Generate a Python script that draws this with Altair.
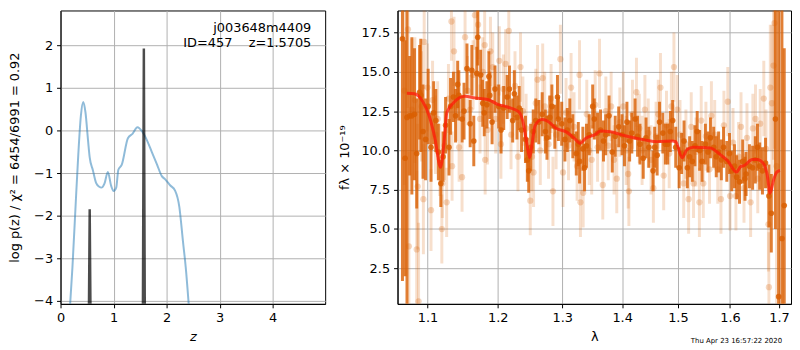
import altair as alt
import pandas as pd

# ---------------- left panel: p(z) ----------------
pz_z = [0.17, 0.225, 0.287, 0.335, 0.384, 0.428, 0.47, 0.52, 0.55, 0.61, 0.67, 0.73, 0.77,
        0.83, 0.892, 0.955, 1.0, 1.05, 1.09, 1.155, 1.27, 1.36, 1.45, 1.54, 1.63, 1.72,
        1.82, 1.91, 1.97, 2.07, 2.16, 2.24, 2.31, 2.36, 2.43]
pz_logp = [-4.3, -3.2, -1.69, -0.56, 0.35, 0.67, 0.43, -0.25, -0.63, -0.93, -1.23, -1.32, -1.34,
           -1.24, -0.97, -1.30, -1.42, -1.34, -0.92, -0.80, -0.18, -0.07, 0.08, -0.02, -0.23, -0.50,
           -0.80, -1.07, -1.14, -1.29, -1.41, -1.79, -2.62, -3.2, -4.3]

spike_z = [0.535, 0.55, 0.565, 1.553, 1.571, 1.589]
spike_v = [-4.3, -1.85, -4.3, -4.3, 1.93, -4.3]
spike_id = ["a", "a", "a", "b", "b", "b"]

label_1 = "j003648m4409"
label_2 = "ID=457\u00a0\u00a0\u00a0\u00a0z=1.5705"

# ---------------- right panel: spectrum ----------------
model_lam = [1.0723, 1.0824, 1.0934, 1.1023, 1.1103, 1.1180, 1.1225, 1.1268, 1.1362, 1.1525,
             1.1666, 1.1855, 1.2000, 1.2146, 1.2320, 1.2394, 1.2444, 1.2485, 1.2520, 1.2570,
             1.2673, 1.2750, 1.2906, 1.3063, 1.3195, 1.3287, 1.3384, 1.3547, 1.3629, 1.3796,
             1.4049, 1.4394, 1.4628, 1.4897, 1.4959, 1.5079, 1.5170, 1.5294, 1.5611, 1.5803,
             1.5957, 1.6130, 1.6214, 1.6280, 1.6448, 1.6548, 1.6684, 1.6750, 1.6817, 1.6886,
             1.6954, 1.7022]
model_f = [13.64, 13.60, 13.13, 12.21, 10.77, 8.93, 10.36, 12.41, 13.03, 13.44,
           13.34, 13.24, 12.93, 12.76, 12.45, 11.59, 10.36, 9.54, 10.36, 11.59,
           11.96, 11.90, 11.39, 11.18, 10.77, 10.46, 10.77, 11.02, 11.23, 11.19,
           10.93, 10.67, 10.56, 10.60, 10.56, 9.54, 10.05, 10.20, 10.16, 9.75,
           9.33, 8.62, 8.97, 9.03, 9.42, 9.42, 9.13, 8.52, 7.28, 8.10,
           8.62, 8.72]

dark_lam = [1.0665, 1.0700, 1.0725, 1.0760, 1.0790, 1.0825, 1.0855, 1.0894, 1.0910, 1.0940,
            1.0975, 1.1010, 1.1049, 1.1085, 1.1115, 1.1150, 1.1184, 1.1215, 1.1250, 1.1298,
            1.1320, 1.1360, 1.1390, 1.1420, 1.1436, 1.1483, 1.1510, 1.1552, 1.1598, 1.1622,
            1.1650, 1.1693, 1.1707, 1.1750, 1.1780, 1.1802, 1.1840, 1.1870, 1.1883, 1.1917,
            1.1960, 1.2015, 1.2050, 1.2090, 1.2142, 1.2176, 1.2225, 1.2250, 1.2290, 1.2324,
            1.2360, 1.2420, 1.2449, 1.2470, 1.2500, 1.2540, 1.2580, 1.2627, 1.2680, 1.2730,
            1.2755, 1.2800, 1.2833, 1.2880, 1.2922, 1.2937, 1.2990, 1.3042, 1.3080, 1.3121,
            1.3170, 1.3227, 1.3260, 1.3281, 1.3335, 1.3363, 1.3395, 1.3440, 1.3498, 1.3525,
            1.3580, 1.3630, 1.3680, 1.3717, 1.3774, 1.3829, 1.3880, 1.3940, 1.3998, 1.4040,
            1.4083, 1.4130, 1.4168, 1.4226, 1.4270, 1.4312, 1.4370, 1.4420, 1.4470, 1.4546,
            1.4575, 1.4620, 1.4663, 1.4723, 1.4770, 1.4813, 1.4860, 1.4904, 1.4960, 1.5023,
            1.5070, 1.5115, 1.5177, 1.5220, 1.5270, 1.5320, 1.5363, 1.5410, 1.5456, 1.5520,
            1.5570, 1.5617, 1.5680, 1.5730, 1.5776, 1.5830, 1.5873, 1.5937, 1.5990, 1.6035,
            1.6090, 1.6134, 1.6190, 1.6255, 1.6300, 1.6322, 1.6390, 1.6455, 1.6510, 1.6554,
            1.6600, 1.6656, 1.6720, 1.6790, 1.6840, 1.6926, 1.6994, 1.7063, 1.7112]
dark_f = [17.1, 9.5, 12.1, 12.2, 12.2, 12.3, 9.8, 13.7, 13.5, 11.2,
          10.7, 12.8, 10.2, 12.4, 11.9, 9.9, 7.9, 9.6, 11.6, 10.2,
          12.8, 13.4, 12.2, 14.2, 13.5, 12.0, 12.5, 15.2, 11.7, 15.1,
          10.6, 14.9, 17.2, 14.8, 13.0, 12.4, 12.9, 14.7, 13.5, 11.8,
          13.9, 12.8, 11.3, 12.7, 13.4, 13.9, 11.9, 13.6, 12.1, 12.7,
          11.3, 10.7, 9.4, 8.7, 10.2, 11.2, 11.9, 11.8, 12.3, 11.2,
          10.8, 12.1, 12.8, 11.5, 13.4, 12.0, 11.7, 10.7, 11.3, 11.9,
          10.9, 9.8, 10.4, 9.3, 10.1, 8.9, 10.3, 11.0, 12.8, 12.0,
          11.1, 11.3, 10.6, 11.0, 12.2, 9.9, 10.9, 11.5, 11.0, 10.3,
          11.8, 10.6, 11.1, 12.0, 10.9, 10.4, 9.5, 10.8, 10.2, 8.7,
          10.2, 9.7, 11.8, 11.1, 10.4, 10.4, 11.2, 11.9, 10.2, 8.9,
          9.8, 10.6, 8.9, 9.6, 9.3, 10.3, 11.2, 10.0, 9.3, 10.4,
          9.9, 10.8, 10.2, 9.6, 9.9, 9.4, 10.2, 9.3, 9.8, 8.7,
          9.0, 8.3, 8.0, 9.3, 8.2, 8.5, 9.0, 8.9, 9.4, 10.2,
          9.0, 8.7, 9.2, 7.1, 6.0, 12.0, 0.7, 4.4, 6.5]
dark_e = [15.4, 7.5, 12.0, 3.8, 5.0, 4.2, 3.5, 3.0, 3.6, 3.0,
          2.6, 2.4, 2.2, 2.0, 2.0, 1.8, 1.5, 1.6, 1.8, 1.8,
          1.8, 1.6, 1.7, 1.5, 1.6, 1.5, 1.8, 1.6, 1.5, 1.6,
          1.6, 1.7, 1.8, 1.6, 1.5, 1.5, 1.5, 1.6, 1.5, 1.4,
          1.5, 1.4, 1.5, 1.4, 1.4, 1.5, 1.4, 1.5, 1.4, 1.4,
          1.4, 1.5, 1.4, 1.4, 1.5, 1.4, 1.4, 1.4, 1.4, 1.4,
          1.4, 1.4, 1.4, 1.4, 1.4, 1.4, 1.4, 1.4, 1.4, 1.4,
          1.4, 1.4, 1.4, 1.4, 1.4, 1.5, 1.4, 1.3, 1.4, 1.3,
          1.3, 1.3, 1.3, 1.3, 1.3, 1.3, 1.3, 1.3, 1.3, 1.3,
          1.3, 1.3, 1.3, 1.3, 1.3, 1.3, 1.3, 1.3, 1.3, 1.3,
          1.3, 1.3, 1.3, 1.3, 1.3, 1.3, 1.3, 1.3, 1.3, 1.3,
          1.3, 1.3, 1.3, 1.3, 1.3, 1.3, 1.3, 1.3, 1.3, 1.3,
          1.3, 1.3, 1.3, 1.3, 1.3, 1.3, 1.3, 1.3, 1.3, 1.3,
          1.4, 1.4, 1.4, 1.4, 1.4, 1.4, 1.4, 1.4, 1.5, 1.5,
          1.5, 1.5, 1.6, 2.0, 2.5, 7.0, 20.0, 16.0, 10.0]

light_lam = [1.0690, 1.0738, 1.0750, 1.0790, 1.0830, 1.0855, 1.0868, 1.0880, 1.0920, 1.0945,
             1.0956, 1.1000, 1.1049, 1.1070, 1.1110, 1.1140, 1.1170, 1.1198, 1.1205, 1.1235,
             1.1265, 1.1290, 1.1332, 1.1341, 1.1368, 1.1400, 1.1440, 1.1482, 1.1525, 1.1560,
             1.1600, 1.1640, 1.1666, 1.1712, 1.1740, 1.1780, 1.1808, 1.1815, 1.1850, 1.1893,
             1.1927, 1.1970, 1.2024, 1.2048, 1.2085, 1.2118, 1.2166, 1.2200, 1.2260, 1.2305,
             1.2344, 1.2380, 1.2430, 1.2494, 1.2520, 1.2545, 1.2580, 1.2607, 1.2650, 1.2688,
             1.2720, 1.2780, 1.2820, 1.2850, 1.2900, 1.2969, 1.3011, 1.3060, 1.3100, 1.3142,
             1.3190, 1.3240, 1.3280, 1.3295, 1.3340, 1.3400, 1.3440, 1.3482, 1.3540, 1.3580,
             1.3613, 1.3668, 1.3720, 1.3760, 1.3810, 1.3860, 1.3907, 1.3960, 1.4020, 1.4070,
             1.4105, 1.4117, 1.4180, 1.4250, 1.4300, 1.4350, 1.4400, 1.4460, 1.4510, 1.4552,
             1.4600, 1.4640, 1.4680, 1.4739, 1.4790, 1.4840, 1.4880, 1.4927, 1.4988, 1.5040,
             1.5109, 1.5150, 1.5201, 1.5250, 1.5294, 1.5340, 1.5405, 1.5440, 1.5480, 1.5530,
             1.5600, 1.5636, 1.5700, 1.5760, 1.5822, 1.5880, 1.5957, 1.6001, 1.6060, 1.6118,
             1.6170, 1.6220, 1.6280, 1.6340, 1.6414, 1.6460, 1.6514, 1.6560, 1.6610, 1.6684,
             1.6730, 1.6780, 1.6790, 1.6819, 1.6853, 1.6886, 1.6906, 1.6950]
light_f = [13.8, 17.7, 3.9, 12.6, 13.2, 3.7, 7.7, 0.4, 12.8, 6.9,
           16.9, 14.0, 6.2, 13.2, 11.0, 12.0, 9.4, 5.0, 7.9, 10.3,
           6.7, 13.3, 18.2, 9.0, 16.3, 12.8, 10.2, 8.3, 17.2, 13.8,
           12.6, 14.8, 18.6, 18.0, 12.0, 15.0, 16.7, 9.4, 11.3, 16.3,
           15.3, 12.0, 15.7, 10.4, 13.9, 15.5, 17.6, 11.0, 14.1, 9.6,
           15.3, 12.5, 11.4, 6.8, 9.6, 8.6, 13.0, 14.5, 10.0, 14.6,
           12.8, 10.4, 13.3, 7.4, 11.0, 15.8, 8.6, 12.4, 10.3, 14.0,
           11.5, 9.0, 14.8, 6.7, 7.3, 12.3, 10.0, 9.4, 12.9, 10.2,
           14.9, 7.8, 12.5, 10.3, 12.8, 9.4, 8.2, 11.8, 12.8, 10.0,
           8.5, 7.4, 12.3, 13.7, 11.4, 10.0, 12.6, 11.1, 9.4, 7.6,
           10.9, 12.3, 14.0, 8.4, 11.6, 9.8, 12.8, 15.3, 12.6, 11.0,
           7.9, 10.4, 6.9, 11.5, 7.9, 9.9, 6.7, 11.9, 7.9, 10.9,
           8.8, 12.2, 11.0, 8.8, 6.9, 11.6, 13.1, 7.1, 10.5, 7.1,
           9.6, 11.5, 7.6, 10.8, 6.7, 11.4, 12.0, 8.2, 11.7, 13.3,
           10.1, 5.3, 1.3, 14.0, 13.0, 15.4, 18.1, 9.0]
light_e = [6.0, 5.0, 6.0, 4.5, 4.0, 5.0, 4.0, 5.0, 3.5, 3.5,
           3.0, 2.8, 2.6, 2.5, 2.5, 2.4, 2.3, 2.2, 2.2, 2.2,
           2.2, 2.2, 2.5, 2.2, 2.2, 2.2, 2.2, 2.2, 2.2, 2.2,
           2.2, 2.2, 2.2, 2.2, 2.2, 2.2, 2.2, 2.2, 2.2, 2.2,
           2.2, 2.2, 2.2, 2.2, 2.2, 2.2, 2.2, 2.2, 2.2, 2.2,
           2.2, 2.2, 2.2, 2.2, 2.2, 2.2, 2.2, 2.2, 2.2, 2.2,
           2.2, 2.2, 2.2, 2.2, 2.2, 2.2, 2.2, 2.2, 2.2, 2.2,
           2.2, 2.2, 2.2, 2.2, 2.2, 2.2, 2.2, 2.2, 2.2, 2.2,
           2.2, 2.2, 2.2, 2.2, 2.2, 2.2, 2.2, 2.2, 2.2, 2.2,
           2.2, 2.2, 2.2, 2.2, 2.2, 2.2, 2.2, 2.2, 2.2, 2.2,
           2.2, 2.2, 2.2, 2.2, 2.2, 2.2, 2.2, 2.2, 2.2, 2.2,
           2.2, 2.2, 2.2, 2.2, 2.2, 2.2, 2.2, 2.2, 2.2, 2.2,
           2.2, 2.2, 2.2, 2.2, 2.2, 2.2, 2.2, 2.2, 2.2, 2.2,
           2.2, 2.2, 2.2, 2.2, 2.2, 2.2, 2.2, 2.2, 2.2, 2.4,
           2.5, 3.0, 3.5, 4.0, 5.0, 6.0, 8.0, 10.0]

timestamp = "Thu Apr 23 16:57:22 2020"

FONT = "DejaVu Sans"
ORANGE = "#d95f02"
GRID = "#b0b0b0"

# ---------------- build left chart ----------------
pz_df = pd.DataFrame({"z": pz_z, "logp": pz_logp})
spk_df = pd.DataFrame({"z": spike_z, "logp": spike_v, "g": spike_id})

xl = alt.X("z:Q", scale=alt.Scale(domain=[0, 4.99], nice=False, zero=False),
           axis=alt.Axis(values=[0, 1, 2, 3, 4], format="d", title="z",
                         titleFontStyle="italic", titlePadding=6))
yl = alt.Y("logp:Q", scale=alt.Scale(domain=[-4.07, 2.82], nice=False, zero=False),
           axis=alt.Axis(values=[-4, -3, -2, -1, 0, 1, 2], format="d",
                         title="log p(z) / χ² = 6454/6991 = 0.92", titlePadding=12))

blue = alt.Chart(pz_df).mark_line(color="#1f77b4", opacity=0.5, strokeWidth=2,
                                  interpolate="monotone", clip=True).encode(x=xl, y=yl)
spikes = alt.Chart(spk_df).mark_line(color="black", opacity=0.7, strokeWidth=2.5,
                                     clip=True).encode(x="z:Q", y="logp:Q", detail="g:N")
t1 = alt.Chart(pd.DataFrame({"t": [label_1]})).mark_text(
    align="right", font=FONT, fontSize=13, color="black").encode(
    text="t:N", x=alt.value(253), y=alt.value(18))
t2 = alt.Chart(pd.DataFrame({"t": [label_2]})).mark_text(
    align="right", font=FONT, fontSize=13, color="black").encode(
    text="t:N", x=alt.value(253), y=alt.value(33))

left = alt.layer(blue, spikes, t1, t2).properties(width=267, height=296)

# ---------------- build right chart ----------------
dark_df = pd.DataFrame({"lam": dark_lam, "f": dark_f, "e": dark_e})
dark_df["lo"] = dark_df["f"] - dark_df["e"]
dark_df["hi"] = dark_df["f"] + dark_df["e"]
light_df = pd.DataFrame({"lam": light_lam, "f": light_f, "e": light_e})
light_df["lo"] = light_df["f"] - light_df["e"]
light_df["hi"] = light_df["f"] + light_df["e"]
model_df = pd.DataFrame({"lam": model_lam, "f": model_f})

xr = alt.X("lam:Q", scale=alt.Scale(type="log", domain=[1.06, 1.7256], nice=False),
           axis=alt.Axis(values=[1.1, 1.2, 1.3, 1.4, 1.5, 1.6, 1.7], format=".1f",
                         title="λ", titlePadding=6))
yscale = alt.Scale(domain=[0.24, 18.9], nice=False, zero=False)
yr = alt.Y("f:Q", scale=yscale,
           axis=alt.Axis(values=[2.5, 5, 7.5, 10, 12.5, 15, 17.5], format=".1f",
                         title="fλ × 10⁻¹⁹", titlePadding=10))

lbars = alt.Chart(light_df).mark_rule(color=ORANGE, opacity=0.2, strokeWidth=3, clip=True).encode(
    x=xr, y=alt.Y("lo:Q", scale=yscale), y2="hi:Q")
lpts = alt.Chart(light_df).mark_circle(color=ORANGE, opacity=0.25, size=40, clip=True).encode(
    x="lam:Q", y=yr)
dbars = alt.Chart(dark_df).mark_rule(color=ORANGE, opacity=0.8, strokeWidth=3, clip=True).encode(
    x="lam:Q", y="lo:Q", y2="hi:Q")
dpts = alt.Chart(dark_df).mark_circle(color=ORANGE, opacity=0.85, size=32, clip=True).encode(
    x="lam:Q", y="f:Q")
mline = alt.Chart(model_df).mark_line(color="#ff1a0a", opacity=0.75, strokeWidth=3,
                                      interpolate="monotone", clip=True).encode(x="lam:Q", y="f:Q")
ts = alt.Chart(pd.DataFrame({"t": [timestamp]})).mark_text(
    align="right", font=FONT, fontSize=7, color="black").encode(
    text="t:N", x=alt.value(388), y=alt.value(333))

right = alt.layer(lbars, lpts, dbars, dpts, mline, ts).properties(width=397, height=296)

chart = alt.hconcat(left, right, spacing=11).properties(
    padding={"left": 0, "top": 0, "right": 0, "bottom": 0}
).configure_view(
    stroke="black", strokeWidth=1
).configure_axis(
    labelFont=FONT, titleFont=FONT, labelFontSize=13, titleFontSize=13,
    titleFontWeight="normal", labelColor="black", titleColor="black",
    domainColor="black", tickColor="black", tickSize=4, labelPadding=4,
    grid=True, gridColor=GRID, gridWidth=1, labelFlush=False
)

chart.save("out.html", embed_options={"renderer": "svg", "actions": False})
